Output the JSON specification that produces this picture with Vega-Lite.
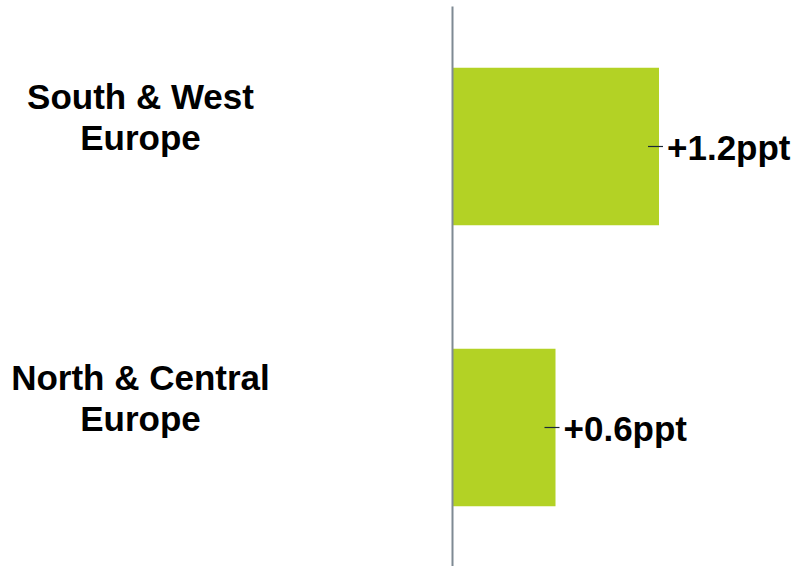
{
  "$schema": "https://vega.github.io/schema/vega-lite/v6.json",
  "width": 345,
  "height": 562,
  "autosize": {"type": "none"},
  "padding": {"left": 452, "top": 6, "right": 8, "bottom": 0},
  "background": "white",
  "config": {"view": {"stroke": null}},
  "data": {
    "values": [
      {"region": "South & West Europe", "value": 1.2, "label": "+1.2ppt"},
      {"region": "North & Central Europe", "value": 0.6, "label": "+0.6ppt"}
    ]
  },
  "encoding": {
    "y": {
      "field": "region",
      "type": "nominal",
      "sort": null,
      "scale": {"paddingInner": 0.44, "paddingOuter": 0.22},
      "axis": {
        "title": null,
        "ticks": false,
        "tickSize": 0,
        "labelPadding": 312,
        "labelAlign": "center",
        "labelBaseline": "middle",
        "labelFont": "Liberation Sans",
        "labelFontWeight": "bold",
        "labelFontSize": 35,
        "labelColor": "black",
        "labelLineHeight": 41,
        "labelLimit": 0,
        "labelExpr": "[replace(datum.label, ' Europe', ''), 'Europe']",
        "labelOffset": -49,
        "domainColor": "#7f8a93",
        "domainWidth": 2,
        "zindex": 1
      }
    }
  },
  "layer": [
    {
      "mark": {"type": "bar", "color": "#b3d225"},
      "encoding": {
        "x": {"field": "value", "type": "quantitative", "scale": {"domain": [0, 2]}, "axis": null}
      }
    },
    {
      "mark": {"type": "rule", "color": "#1b2a38", "strokeWidth": 1.2, "xOffset": -11, "x2Offset": 4},
      "encoding": {
        "x": {"field": "value", "type": "quantitative", "axis": null},
        "x2": {"field": "value"}
      }
    },
    {
      "mark": {"type": "text", "align": "left", "baseline": "middle", "dx": 8, "dy": 2, "font": "Liberation Sans", "fontWeight": "bold", "fontSize": 35, "color": "black"},
      "encoding": {
        "x": {"field": "value", "type": "quantitative", "axis": null},
        "text": {"field": "label"}
      }
    }
  ]
}
